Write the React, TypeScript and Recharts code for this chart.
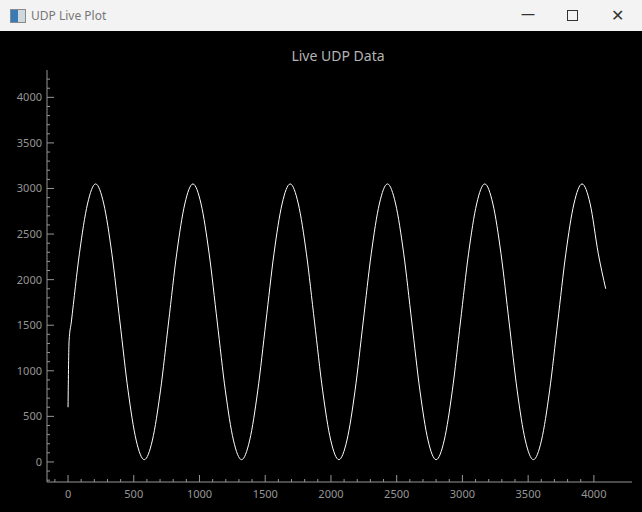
import React from 'react';
import { LineChart, Line, XAxis, YAxis } from 'recharts';

// samples (index) and received values
const sampleIdx = [
  0, 8, 25, 87, 148,
  210, 272, 333, 395, 457, 518, 580, 642, 703, 765, 827, 888,
  950, 1012, 1073, 1135, 1197, 1258, 1320, 1382, 1443, 1505, 1567, 1628,
  1690, 1752, 1813, 1875, 1937, 1998, 2060, 2122, 2183, 2245, 2307, 2368,
  2430, 2492, 2553, 2615, 2677, 2738, 2800, 2862, 2923, 2985, 3047, 3108,
  3170, 3232, 3293, 3355, 3417, 3478, 3540, 3602, 3663, 3725, 3787, 3848,
  3910, 3972, 4033, 4090,
];
const udpValues = [
  600, 1330, 1535, 2290, 2830,
  3050, 2830, 2290, 1535, 780, 240, 25, 240, 780, 1535, 2290, 2830,
  3050, 2830, 2290, 1535, 780, 240, 25, 240, 780, 1535, 2290, 2830,
  3050, 2830, 2290, 1535, 780, 240, 25, 240, 780, 1535, 2290, 2830,
  3050, 2830, 2290, 1535, 780, 240, 25, 240, 780, 1535, 2290, 2830,
  3050, 2830, 2290, 1535, 780, 240, 25, 240, 780, 1535, 2290, 2830,
  3050, 2830, 2290, 1900,
];
const xTicks = Array.from({ length: 42 }, (_, i) => i * 100 - 100);
const yTicks = Array.from({ length: 45 }, (_, i) => i * 100 - 200);

const data = sampleIdx.map((x, i) => ({ x, y: udpValues[i] }));

const AXIS = '#969696';

const XTick = ({ x, y, payload }: any) => {
  const major = payload.value % 500 === 0;
  return (
    <g>
      <line x1={x} x2={x} y1={y} y2={y - (major ? 7 : 3)} stroke={AXIS} />
      {major && (
        <text x={x} y={y + 16} textAnchor="middle" fill={AXIS} fontSize={11}>
          {payload.value}
        </text>
      )}
    </g>
  );
};

const YTick = ({ x, y, payload }: any) => {
  const major = payload.value % 500 === 0;
  return (
    <g>
      <line x1={x} x2={x + (major ? 7 : 3)} y1={y} y2={y} stroke={AXIS} />
      {major && (
        <text x={x - 5} y={y + 4} textAnchor="end" fill={AXIS} fontSize={11}>
          {payload.value}
        </text>
      )}
    </g>
  );
};

export default function App() {
  document.body.style.margin = '0';
  return (
    <div style={{ width: 642, height: 512, position: 'relative', background: '#000', fontFamily: '"Segoe UI", "Noto Sans", sans-serif', overflow: 'hidden' }}>
      <div style={{ position: 'absolute', left: 0, top: 0, width: 642, height: 31, background: '#f3f3f3', color: '#777', fontSize: 12 }}>
        <div style={{ position: 'absolute', left: 10, top: 9, width: 14, height: 12, border: '1px solid #8a8a8a', background: 'linear-gradient(90deg,#3a7bb5 50%,#cfd8dc 50%)' }} />
        <span style={{ position: 'absolute', left: 31, top: 7 }}>UDP Live Plot</span>
        <span style={{ position: 'absolute', left: 521, top: 4, fontSize: 14, color: '#333' }}>—</span>
        <div style={{ position: 'absolute', left: 567, top: 10, width: 9, height: 9, border: '1px solid #333' }} />
        <span style={{ position: 'absolute', left: 611, top: 4, fontSize: 16, color: '#333' }}>✕</span>
      </div>
      <div style={{ position: 'absolute', left: 0, top: 31, width: 642, height: 481 }}>
        <div style={{ position: 'absolute', left: 0, top: 15, width: 642, textAlign: 'center', paddingLeft: 34, boxSizing: 'border-box', color: '#b4b4b4', fontSize: 14 }}>
          Live UDP Data
        </div>
        <LineChart width={642} height={481} data={data} margin={{ top: 39, right: 10, bottom: 1, left: 0 }}>
          <XAxis dataKey="x" type="number" domain={[-160, 4290]} ticks={xTicks} interval={0}
            stroke={AXIS} tickLine={false} tickSize={0} tickMargin={0} tick={<XTick />} height={29} allowDataOverflow />
          <YAxis type="number" domain={[-220, 4300]} ticks={yTicks} interval={0}
            stroke={AXIS} tickLine={false} tickSize={0} tickMargin={0} tick={<YTick />} width={47} allowDataOverflow />
          <Line dataKey="y" type="monotone" stroke="#ffffff" strokeWidth={1} dot={false} isAnimationActive={false} />
        </LineChart>
      </div>
    </div>
  );
}
